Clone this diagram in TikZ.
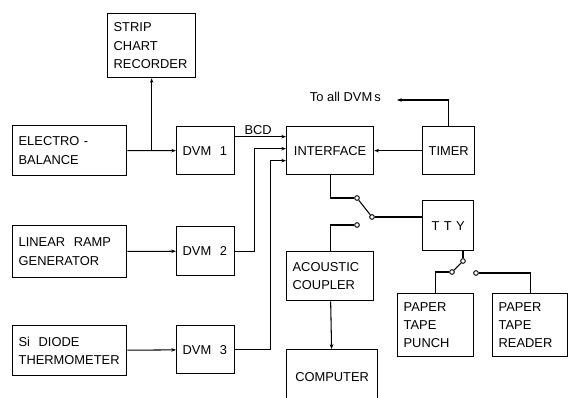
\documentclass[tikz,border=0pt]{standalone}
\usepackage{fontspec}
\setmainfont{Liberation Sans}
\usetikzlibrary{arrows.meta}

\tikzset{
  blk/.style={draw, line width=1.1pt, anchor=north west, align=left, inner xsep=1.8mm, inner ysep=0pt,
    font=\fontsize{11}{15.5}\selectfont},
  blkc/.style={blk, align=center},
  arr/.style={line width=0.9pt, -{Stealth[length=4pt,width=3pt]}},
  wire/.style={line width=0.9pt},
  contact/.style={circle, draw, line width=0.8pt, fill=white, inner sep=0pt, minimum size=1.4mm}
}

\begin{document}
\begin{tikzpicture}[x=0.3mm, y=-0.3mm]
\useasboundingbox (0,0) rectangle (568,398);

% left column
\node[blk, text width=22.8mm, minimum height=19.2mm] (scr) at (107,13) {STRIP\\CHART\\RECORDER};
\node[blk, text width=30.6mm, minimum height=15mm] (elb) at (12,125) {ELECTRO -\\BALANCE};
\node[blk, text width=30.6mm, minimum height=15.6mm] (lrg) at (12,225) {LINEAR \ RAMP\\GENERATOR};
\node[blk, text width=30.6mm, minimum height=15mm] (sid) at (12,325) {Si \ DIODE\\THERMOMETER};

% voltmeters
\node[blk, text width=13.8mm, minimum height=14.4mm] (dvmA) at (176,126) {DVM \ 1};
\node[blk, text width=13.8mm, minimum height=14.7mm] (dvmB) at (176,226) {DVM \ 2};
\node[blk, text width=13.8mm, minimum height=14.4mm] (dvmC) at (176,325) {DVM \ 3};

% right part
\node[blkc, text width=22.5mm, minimum height=14.4mm] (intf) at (286,126) {INTERFACE};
\node[blkc, text width=12mm, minimum height=14.4mm] (timer) at (422,126) {TIMER};
\node[blkc, text width=11.7mm, minimum height=15mm] (tty) at (422,200) {T T Y};
\node[blk, text width=22.5mm, minimum height=14.7mm] (acc) at (286,251) {ACOUSTIC\\COUPLER};
\node[blkc, text width=23.7mm, minimum height=16.5mm] (comp) at (286,349) {COMPUTER};
\node[blk, text width=19.2mm, minimum height=18.9mm] (ptp) at (397,293) {PAPER\\TAPE\\PUNCH};
\node[blk, text width=18.9mm, minimum height=18.9mm] (ptr) at (492,293) {PAPER\\TAPE\\READER};

% switch contacts
\node[contact] (c1) at (357,198) {};
\node[contact] (p1) at (372,217) {};
\node[contact] (c2) at (357,225) {};
\node[contact] (p2) at (463,261) {};
\node[contact] (c3) at (452,272) {};
\node[contact] (c4) at (476,273) {};
\coordinate (alldvm) at (397,100);
\node[anchor=east, font=\fontsize{11}{13}\selectfont] (lbl) at (385,97) {To all DVM\,s};

% signals
\draw[arr] (elb) -- (dvmA);
\draw[arr] (elb.east -| scr.south) -- (scr.south);
\draw[arr] ([yshift=4.2mm]dvmA.east) -- ([yshift=4.2mm]intf.west) node[pos=0.45, above, inner sep=1pt, font=\fontsize{11}{13}\selectfont] {BCD};
\draw[arr] (lrg) -- (dvmB);
\draw[arr] (sid) -- (dvmC);
\draw[arr] (dvmB.east) -- ++(5.7mm,0) |- ([yshift=0.6mm]intf.west);
\draw[arr] (dvmC.east) -- ++(10.5mm,0) |- ([yshift=-3mm]intf.west);
\draw[arr] (timer) -- (intf);
\draw[arr] (timer.north) |- (alldvm);

% terminal switching
\draw[wire] (intf.south) |- (c1);
\draw[wire] (p1) -- (c1);
\draw[wire] (p1) -- (p1 -| tty.west);
\draw[wire] (c2) -| (acc.north);
\draw[arr] (acc) -- (comp);
\draw[wire] (tty.south -| p2) -- (p2);
\draw[wire] (p2) -- (c3);
\draw[wire] (c3) -| (ptp.north);
\draw[wire] (c4) -| (ptr.north);
\end{tikzpicture}
\end{document}
